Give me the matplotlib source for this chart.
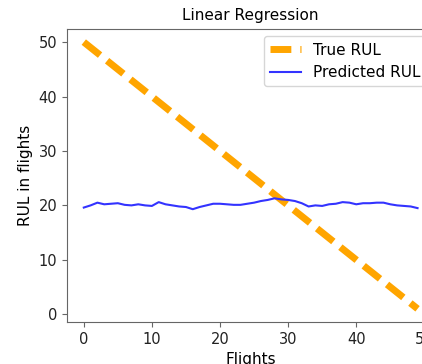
import numpy as np
import matplotlib
matplotlib.use('Agg')
import matplotlib.pyplot as plt

# flights index and RUL values
flights = list(range(50))
true_rul = [50 - f for f in flights]
predicted_rul = [19.6, 20.0, 20.5, 20.2, 20.3, 20.4, 20.1, 20.0, 20.2, 20.0,
                 19.9, 20.6, 20.2, 20.0, 19.8, 19.7, 19.3, 19.7, 20.0, 20.3,
                 20.3, 20.2, 20.1, 20.1, 20.3, 20.5, 20.8, 21.0, 21.3, 21.1,
                 21.0, 20.8, 20.4, 19.8, 20.0, 19.9, 20.2, 20.3, 20.6, 20.5,
                 20.2, 20.4, 20.4, 20.5, 20.5, 20.2, 20.0, 19.9, 19.8, 19.5]

fig = plt.figure(figsize=(4.22, 3.64), dpi=100)
# axes run past the right edge, as in the reference
ax = fig.add_axes([0.159, 0.115, 0.87, 0.806])

ax.plot(flights, true_rul, '--', color='orange', lw=5, dashes=(3.0, 1.3), label='True RUL')
ax.plot(flights, predicted_rul, color='#3333ff', lw=1.5, label='Predicted RUL')

ax.set_title('Linear Regression', fontsize=11)
ax.set_xlabel('Flights', fontsize=11)
ax.set_ylabel('RUL in flights', fontsize=11)
ax.legend(loc='upper right', fontsize=11)

for s in ax.spines.values():
    s.set_color('#666666')
ax.tick_params(colors='#666666', labelcolor='#222222', labelsize=10.5)

fig.savefig('out.png', dpi=100)
